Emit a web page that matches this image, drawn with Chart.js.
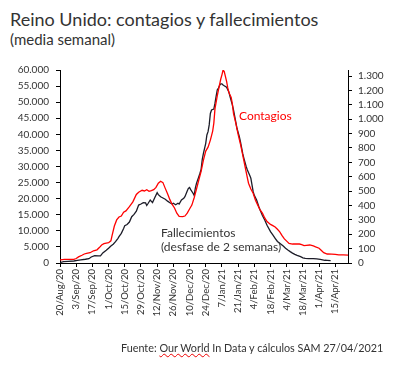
<!DOCTYPE html>
<html lang="es">
  <head>
    <meta charset="UTF-8" />
    <script src="https://cdn.jsdelivr.net/npm/chart.js"></script>
    <title>Reino Unido: contagios y fallecimientos</title>
    <style>
      * {
        padding: 0;
        margin: 0;
        box-sizing: border-box;
      }
      body {
        width: 403px;
        height: 370px;
        background: #fff;
        font-family: Lato, sans-serif;
        color: #333;
        position: relative;
        overflow: hidden;
      }
      .title {
        position: absolute;
        left: 10px;
        top: 8px;
        font-size: 18px;
        white-space: nowrap;
      }
      .subtitle {
        position: absolute;
        left: 10px;
        top: 30px;
        font-size: 15px;
      }
      .chart-box {
        position: absolute;
        left: 0;
        top: 0;
        width: 403px;
        height: 370px;
      }
      .note {
        position: absolute;
        font-size: 12px;
        white-space: nowrap;
        line-height: 14px;
      }
      .red {
        color: #ff0000;
      }
      .source {
        position: absolute;
        left: 121px;
        top: 341px;
        font-size: 10.8px;
        white-space: nowrap;
      }
      .source span {
        text-decoration: underline wavy #e00;
        text-decoration-thickness: 1px;
      }
    </style>
  </head>
  <body>
    <div class="title">Reino Unido: contagios y fallecimientos</div>
    <div class="subtitle">(media semanal)</div>
    <div class="chart-box">
      <canvas id="myChart" width="403" height="370"></canvas>
    </div>
    <div class="note red" style="left: 239px; top: 109px">Contagios</div>
    <div class="note" style="left: 161px; top: 226px">Fallecimientos<br />(desfase de 2 semanas)</div>
    <div class="source">Fuente: <span>Our World</span> In Data y cálculos SAM 27/04/2021</div>
    <script>
      // x = days since 20/Aug/20
      const tickLabels = ['20/Aug/20', '3/Sep/20', '17/Sep/20', '1/Oct/20', '15/Oct/20', '29/Oct/20',
        '12/Nov/20', '26/Nov/20', '10/Dec/20', '24/Dec/20', '7/Jan/21', '21/Jan/21', '4/Feb/21',
        '18/Feb/21', '4/Mar/21', '18/Mar/21', '1/Apr/21', '15/Apr/21'];

      // contagios (eje izquierdo)
      const casesDay = [0, 4, 8, 12, 14, 16, 19, 21, 23, 26, 29, 32, 34, 36, 38, 40, 42, 44, 45, 47,
        49, 51, 53, 55, 57, 60, 63, 66, 68, 71, 73, 75, 77, 79, 81, 83, 85, 87, 89, 91,
        93, 95, 97, 99, 101, 103, 106, 108, 110, 112, 114, 116, 118, 120, 122, 124, 126, 128, 130, 132,
        133, 134, 136, 138, 139, 140, 141, 142, 143, 144, 145, 146, 148, 149, 150, 152, 154, 156, 158, 160,
        162, 163, 165, 167, 169, 171, 173, 175, 177, 179, 182, 184, 186, 188, 190, 192, 194, 196, 198, 201,
        204, 207, 209, 211, 213, 216, 219, 221, 224, 226, 228, 231, 235, 238, 241, 245, 249];
      const cases = [1000, 1100, 1100, 1150, 1400, 1900, 2400, 2800, 3000, 3200, 3800, 4100, 4800, 5600, 6000, 6200, 6300, 6900, 8500, 11500,
        13400, 14300, 14600, 15800, 16200, 17500, 19000, 21300, 22000, 22600, 22400, 22800, 22300, 22500, 22800, 23500, 24800, 25400, 25000, 23200,
        21500, 19700, 18200, 17100, 15500, 14500, 14400, 14600, 15500, 16800, 18000, 20300, 23000, 25800, 28500, 32000, 34800, 36000, 38200, 41000,
        43500, 48000, 52000, 55500, 57200, 58500, 60000, 59500, 58000, 56500, 54500, 53000, 51500, 49500, 46500, 43500, 40000, 37000, 33500, 30000,
        26500, 24800, 23000, 21700, 19500, 18000, 16500, 15500, 14000, 12900, 12000, 11600, 11200, 10500, 9700, 8500, 7500, 6800, 6100, 5900,
        5900, 5900, 5700, 5400, 5500, 5600, 5300, 5000, 4600, 3900, 3200, 2800, 2750, 2700, 2500, 2500, 2450];

      // fallecimientos, desfase de 2 semanas (eje derecho)
      const deathsDay = [0, 3, 7, 12, 15, 18, 22, 25, 27, 30, 33, 35, 37, 40, 42, 44, 46, 48, 50, 51,
        53, 55, 56, 58, 60, 62, 64, 66, 68, 70, 72, 74, 75, 76, 78, 80, 82, 84, 85, 87,
        89, 91, 93, 95, 97, 98, 100, 102, 103, 105, 107, 108, 110, 111, 112, 113, 115, 116, 117, 118,
        120, 121, 122, 123, 124, 126, 127, 128, 129, 130, 131, 133, 134, 135, 136, 137, 138, 139, 140, 141,
        142, 144, 146, 147, 149, 150, 152, 153, 155, 156, 158, 159, 161, 162, 164, 165, 167, 168, 170, 172,
        173, 175, 177, 179, 182, 184, 186, 188, 190, 193, 195, 197, 199, 201, 203, 205, 208, 210, 212, 215,
        219, 222, 225, 227, 229, 231, 234];
      const deaths = [3, 9, 11, 14, 18, 22, 26, 30, 42, 51, 50, 49, 70, 88, 102, 118, 130, 148, 170, 183,
        206, 240, 260, 268, 285, 322, 338, 360, 403, 410, 420, 418, 400, 412, 438, 420, 455, 489, 475, 461,
        452, 443, 430, 419, 410, 415, 405, 415, 410, 438, 450, 461, 500, 519, 525, 510, 485, 470, 520, 554,
        600, 624, 650, 720, 763, 832, 890, 913, 960, 1040, 1064, 1070, 1111, 1160, 1205, 1215, 1235, 1245, 1245, 1238,
        1232, 1222, 1190, 1157, 1100, 1064, 980, 937, 880, 844, 760, 728, 670, 647, 610, 590, 496, 470, 438, 390,
        369, 330, 299, 262, 218, 195, 172, 150, 137, 118, 102, 90, 79, 69, 60, 53, 44, 36, 32, 31,
        30, 28, 25, 22, 19, 18, 16];

      const toPoints = (xs, ys) => xs.map((x, i) => ({ x: x, y: ys[i] }));
      const fmt = (v) => String(v).replace(/\B(?=(\d{3})+(?!\d))/g, '.');
      const tickFont = { family: 'Lato', size: 10 };
      const stepTicks = (last, step) => {
        const out = [];
        for (let v = 0; v <= last; v += step) out.push({ value: v });
        return out;
      };

      const config = {
        type: 'line',
        data: {
          datasets: [
            {
              label: 'Contagios',
              data: toPoints(casesDay, cases),
              borderColor: '#ff0000',
              borderWidth: 1.3,
              pointRadius: 0,
              tension: 0,
              yAxisID: 'y',
            },
            {
              label: 'Fallecimientos',
              data: toPoints(deathsDay, deaths),
              borderColor: '#1c1c28',
              borderWidth: 1.3,
              pointRadius: 0,
              tension: 0,
              yAxisID: 'y2',
            },
          ],
        },
        options: {
          responsive: false,
          animation: false,
          layout: { padding: { top: 70, left: 0, right: 0, bottom: 0 } },
          plugins: { legend: { display: false }, tooltip: { enabled: false } },
          scales: {
            x: {
              type: 'linear',
              min: 0,
              max: 249,
              grid: { drawOnChartArea: false, tickLength: 4, color: '#000' },
              border: { color: '#000' },
              afterBuildTicks: (s) => { s.ticks = stepTicks(238, 14); },
              afterFit: (s) => { s.height = 107; },
              ticks: {
                autoSkip: false,
                minRotation: 90,
                maxRotation: 90,
                padding: 2,
                color: '#333',
                font: { family: 'Lato', size: 9.5 },
                callback: (v) => tickLabels[v / 14],
              },
            },
            y: {
              position: 'left',
              min: 0,
              max: 60000,
              grid: { drawOnChartArea: false, tickLength: 4, color: '#000' },
              border: { color: '#000' },
              afterFit: (s) => { s.width = 60; },
              ticks: { stepSize: 5000, autoSkip: false, padding: 7, color: '#333', font: tickFont, callback: (v) => fmt(v) },
            },
            y2: {
              position: 'right',
              min: 0,
              max: 1342,
              grid: { drawOnChartArea: false, tickLength: 4, color: '#000' },
              border: { color: '#000' },
              afterBuildTicks: (s) => { s.ticks = stepTicks(1300, 100); },
              afterFit: (s) => { s.width = 55; },
              ticks: { autoSkip: false, padding: 6, color: '#333', font: tickFont, callback: (v) => fmt(v) },
            },
          },
        },
      };
      const myChart = new Chart(document.getElementById('myChart'), config);
    </script>
  </body>
</html>
